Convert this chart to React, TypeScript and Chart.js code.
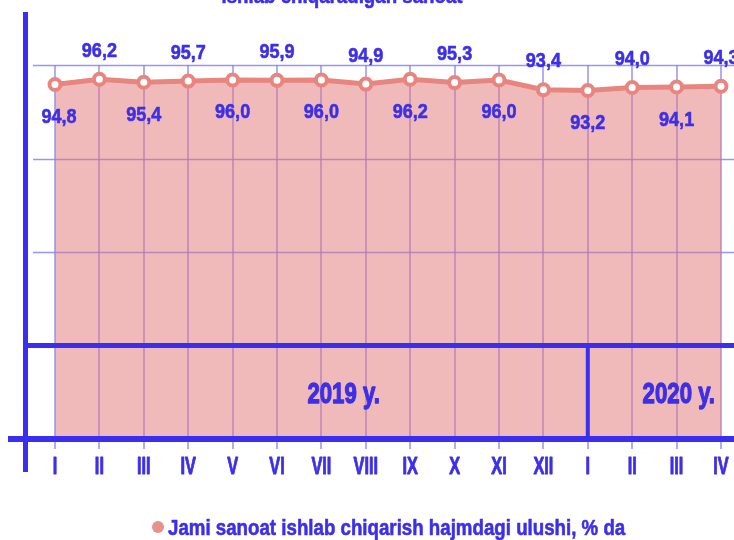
import React, { useEffect, useRef } from 'react';
import { Chart, registerables } from 'chart.js';

Chart.register(...registerables);

// ---- data ----
const months = ['I', 'II', 'III', 'IV', 'V', 'VI', 'VII', 'VIII', 'IX', 'X', 'XI', 'XII', 'I', 'II', 'III', 'IV'];
const shares = [94.8, 96.2, 95.4, 95.7, 96.0, 95.9, 96.0, 94.9, 96.2, 95.3, 96.0, 93.4, 93.2, 94.0, 94.1, 94.3];
const yearLabels = ['2019 y.', '2020 y.'];
const yearFirstIndex = [0, 12];
const yGridValues = [50, 75, 100];
const seriesName = 'Jami sanoat ishlab chiqarish hajmdagi ulushi, % da';
const titleText = 'ishlab chiqaradigan sanoat';

const BLUE = '#3d2fe8';
const LINE_BLUE = '#3a2ef0';
const PINK = '#e8857f';
const FONT = '"Liberation Sans", Arial, sans-serif';

function narrowText(
  ctx: CanvasRenderingContext2D,
  text: string,
  x: number,
  yCenter: number,
  size: number,
  scaleX: number,
  align: CanvasTextAlign = 'center',
  weight = 0.7,
) {
  ctx.save();
  ctx.translate(x, yCenter + size * 0.358);
  ctx.scale(scaleX, 1);
  ctx.font = `bold ${size}px ${FONT}`;
  ctx.textAlign = align;
  ctx.textBaseline = 'alphabetic';
  ctx.fillStyle = BLUE;
  ctx.strokeStyle = BLUE;
  ctx.lineWidth = weight;
  ctx.lineJoin = 'round';
  ctx.fillText(text, 0, 0);
  if (weight > 0) ctx.strokeText(text, 0, 0);
  ctx.restore();
}

const decorPlugin = {
  id: 'decor',
  beforeDatasetsDraw(chart: any) {
    const { ctx, scales } = chart;
    const y = scales.y;
    ctx.save();
    ctx.strokeStyle = 'rgba(130,130,250,0.85)';
    ctx.lineWidth = 1.5;
    for (const v of yGridValues) {
      const py = Math.round(y.getPixelForValue(v)) + 0.5;
      ctx.beginPath();
      ctx.moveTo(33, py);
      ctx.lineTo(chart.width, py);
      ctx.stroke();
    }
    ctx.restore();
  },
  afterDatasetsDraw(chart: any) {
    const { ctx, scales } = chart;
    const x = scales.x;
    const y = scales.y;
    const y0 = y.getPixelForValue(0);
    const y25 = y.getPixelForValue(25);

    ctx.save();
    ctx.strokeStyle = LINE_BLUE;
    ctx.lineCap = 'butt';
    // table lines
    ctx.lineWidth = 5;
    ctx.beginPath();
    ctx.moveTo(28, y25);
    ctx.lineTo(chart.width, y25);
    ctx.stroke();
    ctx.lineWidth = 6;
    ctx.beginPath();
    ctx.moveTo(8, y0);
    ctx.lineTo(chart.width, y0);
    ctx.stroke();
    const sepX = x.getPixelForValue(yearFirstIndex[1]);
    ctx.lineWidth = 4;
    ctx.beginPath();
    ctx.moveTo(sepX, y25);
    ctx.lineTo(sepX, y0);
    ctx.stroke();
    // y axis line
    ctx.lineWidth = 5;
    ctx.beginPath();
    ctx.moveTo(25.5, 12);
    ctx.lineTo(25.5, 472);
    ctx.stroke();
    ctx.restore();

    // year labels
    const yMid = (y0 + y25) / 2;
    narrowText(ctx, yearLabels[0], x.getPixelForValue(6.5), yMid, 30, 0.74, 'center', 1.3);
    narrowText(ctx, yearLabels[1], x.getPixelForValue(14.05), yMid, 30, 0.74, 'center', 1.3);

    // data labels
    const meta = chart.getDatasetMeta(0);
    meta.data.forEach((pt: any, i: number) => {
      const txt = shares[i].toFixed(1).replace('.', ',');
      const above = i % 2 === 1;
      const cy = above ? pt.y - 30 : pt.y + 31;
      narrowText(ctx, txt, pt.x + (i === 0 ? 4 : 0), cy, 21, 0.86, 'center', 0.6);
    });

    // x tick labels
    months.forEach((m, i) => {
      narrowText(ctx, m, x.getPixelForTick(i), 466, 23, 0.71, 'center', 0.9);
    });

    // legend
    ctx.save();
    ctx.fillStyle = '#e8908c';
    ctx.beginPath();
    ctx.arc(158, 527, 6, 0, Math.PI * 2);
    ctx.fill();
    ctx.restore();
    narrowText(ctx, seriesName, 168, 527, 22, 0.85, 'left', 0.6);

    // title (cut off at top)
    narrowText(ctx, titleText, 342, -5, 22, 0.85, 'center', 0.6);
  },
};

export default function App() {
  const ref = useRef<HTMLCanvasElement>(null);
  useEffect(() => {
    if (!ref.current) return;
    const chart = new Chart(ref.current, {
      type: 'line',
      data: {
        labels: months,
        datasets: [
          {
            label: seriesName,
            data: shares,
            borderColor: PINK,
            borderWidth: 5,
            backgroundColor: 'rgba(226,118,118,0.5)',
            fill: 'origin',
            tension: 0,
            pointRadius: 5.5,
            pointBorderWidth: 4,
            pointBackgroundColor: '#ffffff',
            pointBorderColor: PINK,
          },
        ],
      },
      plugins: [decorPlugin],
      options: {
        responsive: false,
        animation: false,
        layout: { padding: { left: 55, right: 13, top: 65, bottom: 91 } },
        plugins: {
          legend: { display: false },
          tooltip: { enabled: false },
          title: { display: false },
        },
        scales: {
          x: {
            type: 'category',
            offset: false,
            display: true,
            border: { display: false },
            grid: {
              color: 'rgba(125,120,240,0.6)',
              lineWidth: 2,
              drawTicks: true,
              tickLength: 10,
            },
            ticks: { display: false },
          },
          y: {
            display: false,
            min: 0,
            max: 100,
          },
        },
      },
    });
    return () => chart.destroy();
  }, []);
  return (
    <div style={{ position: 'fixed', left: 0, top: 0, width: 734, height: 540, background: '#fff' }}>
      <canvas ref={ref} width={734} height={540} style={{ display: 'block' }} />
    </div>
  );
}
